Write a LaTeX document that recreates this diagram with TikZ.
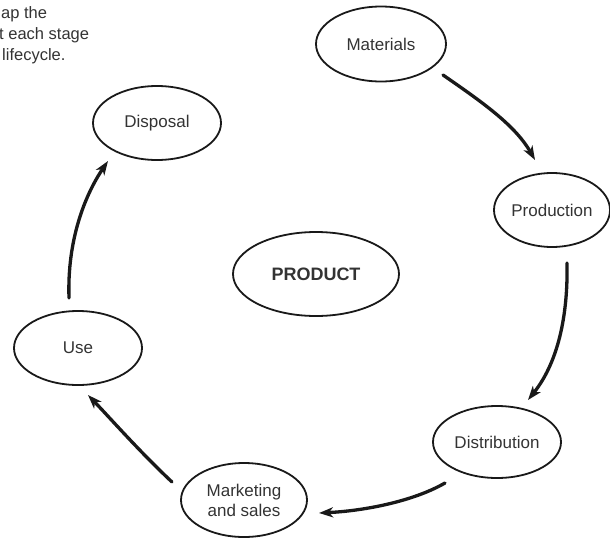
\documentclass[tikz,border=0pt]{standalone}
\usepackage{fontspec}
\setmainfont{Liberation Sans}
\usetikzlibrary{shapes.geometric,arrows.meta}
\begin{document}
\begin{tikzpicture}[x=1pt,y=-1pt,
  stage/.style={ellipse,draw=black!90,line width=1.8pt,inner sep=0pt,
    text=black!80,font=\fontsize{17}{20}\selectfont,align=center},
  flow/.style={line width=3.3pt,black!90,line cap=round,
    -{Stealth[length=14pt,width=10pt,inset=4pt]}},
  note/.style={anchor=base west,inner sep=0pt,text=black!80,
    font=\fontsize{16.5}{18}\selectfont}]
\useasboundingbox (0,0) rectangle (610,538);
\clip (0,0) rectangle (610,538);

% introductory text
\node[note] (n1) at (1,18) {ap the};
\node[note] (n2) at (-1,39) {t each stage};
\node[note] (n3) at (2,60) {lifecycle.};

% stages of the lifecycle
\node[stage,minimum width=130pt,minimum height=75pt] (mat)  at (381,44)  {Materials};
\node[stage,minimum width=116pt,minimum height=74pt] (prod) at (552,210) {Production};
\node[stage,minimum width=128pt,minimum height=72pt] (dist) at (497,442) {Distribution};
\node[stage,minimum width=126pt,minimum height=74pt] (mkt)  at (244,500) {Marketing\\and sales};
\node[stage,minimum width=128pt,minimum height=74pt] (use)  at (78,348)  {Use};
\node[stage,minimum width=128pt,minimum height=74pt] (disp) at (157,123) {Disposal};
\node[stage,minimum width=166pt,minimum height=84pt,
      font=\fontsize{18}{20}\selectfont\bfseries] (prd) at (316,274) {PRODUCT};

% arrow end points
\coordinate (a1s) at (443,75);  \coordinate (a1e) at (535,160);
\coordinate (a2s) at (567,263); \coordinate (a2e) at (528,400);
\coordinate (a3s) at (445,483); \coordinate (a3e) at (319,513);
\coordinate (a4s) at (172,482); \coordinate (a4e) at (88,395);
\coordinate (a5s) at (69,298);  \coordinate (a5e) at (108,161);

% connectors
\draw[flow] (a1s) .. controls (482,102) and (515,125) .. (a1e);
\draw[flow] (a2s) .. controls (568,310) and (560,360) .. (a2e);
\draw[flow] (a3s) .. controls (412,502) and (362,511) .. (a3e);
\draw[flow] (a4s) .. controls (140,452) and (110,418) .. (a4e);
\draw[flow] (a5s) .. controls (67,240) and (85,195) .. (a5e);
\end{tikzpicture}
\end{document}
